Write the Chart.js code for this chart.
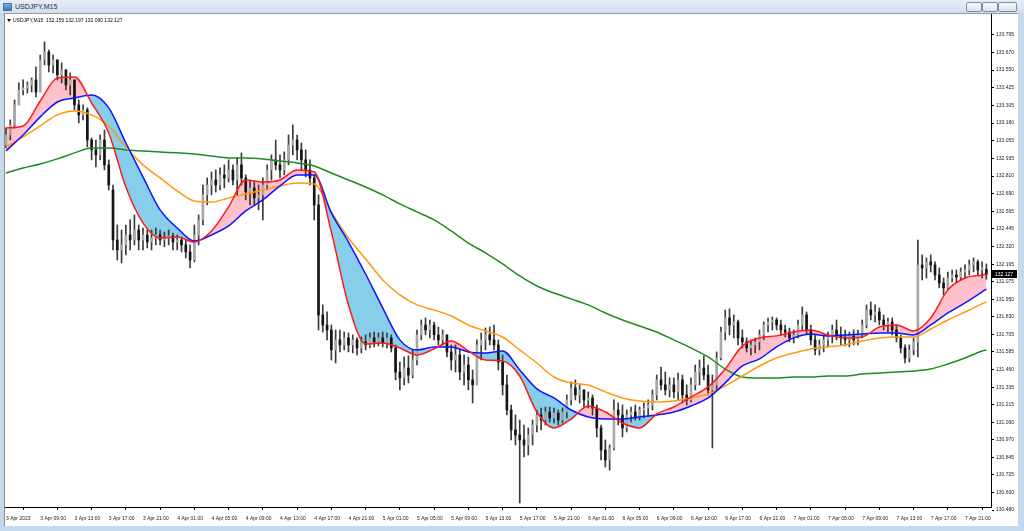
<!DOCTYPE html>
<html>
<head>
<meta charset="utf-8">
<script src="https://cdn.jsdelivr.net/npm/chart.js@4.4.1/dist/chart.umd.min.js"></script>
<style>
  html, body { margin: 0; padding: 0; }
  body { width: 1024px; height: 531px; position: relative; overflow: hidden; background: #c4d8ee; font-family: "Liberation Sans", Arial, sans-serif; }
  #titlebar { position: absolute; left: 0; top: 0; width: 1024px; height: 13px; background: linear-gradient(#e6edf6, #d3dfee); }
  #titlebar .icon { position: absolute; left: 3px; top: 3px; width: 7px; height: 6px; background: linear-gradient(#7fb0e0, #3b77b8); border: 1px solid #4d6f95; }
  #titlebar .text { position: absolute; left: 15px; top: 2px; font-size: 7px; line-height: 9px; color: #1d2c40; }
  .btn { position: absolute; top: 2px; height: 8px; border: 1px solid #7d8ea6; border-radius: 2px; background: linear-gradient(#f4f7fb, #d8e2ee); }
  #frame { position: absolute; left: 4px; top: 13px; width: 1014px; height: 513px; background: #fff; box-sizing: border-box; border-left: 1px solid #8c8c8c; border-top: 1px solid #9a9a9a; }
  #wrap { position: absolute; left: 0; top: 0; width: 1013px; height: 512px; }
</style>
</head>
<body>
<div id="titlebar">
  <div class="icon"></div>
  <div class="text">USDJPY,M15</div>
  <div class="btn" style="left:966px;width:14px;"></div>
  <div class="btn" style="left:982px;width:14px;"></div>
  <div class="btn" style="left:998px;width:17px;"></div>
</div>
<div id="frame"><div id="wrap"><canvas id="chart"></canvas></div></div>
<script>
// time axis: one label every 8 half-hour bars
const timeLabels = ['3 Apr 2023', '3 Apr 09:00', '3 Apr 13:00', '3 Apr 17:00', '3 Apr 21:00',
  '4 Apr 01:00', '4 Apr 05:00', '4 Apr 09:00', '4 Apr 13:00', '4 Apr 17:00', '4 Apr 21:00',
  '5 Apr 01:00', '5 Apr 05:00', '5 Apr 09:00', '5 Apr 13:00', '5 Apr 17:00', '5 Apr 21:00',
  '6 Apr 01:00', '6 Apr 05:00', '6 Apr 09:00', '6 Apr 13:00', '6 Apr 17:00', '6 Apr 21:00',
  '7 Apr 01:00', '7 Apr 05:00', '7 Apr 09:00', '7 Apr 13:00', '7 Apr 17:00', '7 Apr 21:00'];
const labelBars = [0, 8, 16, 24, 32, 40, 48, 56, 64, 72, 80, 88, 96, 104, 112, 120, 128, 136, 144,
  152, 160, 168, 176, 184, 192, 200, 208, 216, 224];

const priceTicks = [133.795, 133.670, 133.550, 133.425, 133.305, 133.180, 133.055, 132.935, 132.810,
  132.690, 132.565, 132.445, 132.320, 132.195, 132.075, 131.950, 131.830, 131.705, 131.585, 131.460,
  131.335, 131.215, 131.090, 130.970, 130.845, 130.725, 130.600, 130.480];

// USDJPY candles (30 min), 3 Apr 05:00 .. 7 Apr 23:30
const opens = [
  133.027, 133.097, 133.167, 133.307, 133.411, 133.425, 133.446, 133.481, 133.397, 133.621,
  133.676, 133.586, 133.621, 133.516, 133.551, 133.446, 133.481, 133.307, 133.237, 133.272,
  133.062, 132.993, 132.958, 133.062, 132.888, 132.713, 132.364, 132.295, 132.330, 132.399,
  132.364, 132.434, 132.364, 132.399, 132.350, 132.378, 132.399, 132.364, 132.378, 132.392,
  132.350, 132.364, 132.330, 132.281, 132.225, 132.399, 132.504, 132.679, 132.748, 132.783,
  132.748, 132.818, 132.797, 132.853, 132.783, 132.888, 132.797, 132.699, 132.727, 132.658,
  132.679, 132.748, 132.853, 132.923, 132.888, 132.853, 132.923, 133.027, 133.062, 132.993,
  132.923, 132.853, 132.797, 132.609, 131.841, 131.771, 131.736, 131.597, 131.667, 131.632,
  131.681, 131.632, 131.667, 131.611, 131.653, 131.632, 131.681, 131.653, 131.681, 131.646,
  131.681, 131.611, 131.443, 131.402, 131.471, 131.422, 131.527, 131.702, 131.771, 131.736,
  131.771, 131.702, 131.667, 131.702, 131.583, 131.527, 131.562, 131.443, 131.492, 131.388,
  131.353, 131.632, 131.667, 131.702, 131.667, 131.632, 131.513, 131.353, 131.178, 131.039,
  131.004, 130.969, 130.934, 131.004, 131.073, 131.143, 131.108, 131.164, 131.122, 131.157,
  131.108, 131.164, 131.248, 131.332, 131.283, 131.318, 131.248, 131.262, 131.192, 131.053,
  130.899, 130.829, 130.913, 131.178, 131.143, 131.053, 131.143, 131.164, 131.129, 131.178,
  131.192, 131.213, 131.283, 131.388, 131.353, 131.318, 131.353, 131.304, 131.388, 131.283,
  131.248, 131.353, 131.443, 131.471, 131.422, 131.318, 131.353, 131.541, 131.722, 131.820,
  131.771, 131.792, 131.681, 131.653, 131.611, 131.632, 131.653, 131.702, 131.771, 131.792,
  131.806, 131.771, 131.736, 131.722, 131.681, 131.702, 131.771, 131.841, 131.736, 131.667,
  131.597, 131.632, 131.667, 131.702, 131.736, 131.702, 131.681, 131.667, 131.695, 131.667,
  131.702, 131.771, 131.876, 131.841, 131.862, 131.806, 131.771, 131.792, 131.736, 131.681,
  131.611, 131.541, 131.597, 131.653, 132.190, 132.169, 132.211, 132.190, 132.120, 132.064,
  132.030, 132.099, 132.120, 132.106, 132.141, 132.155, 132.190, 132.211, 132.155, 132.159];
const highs = [
  133.146, 133.202, 133.341, 133.460, 133.481, 133.467, 133.495, 133.572, 133.655, 133.746,
  133.690, 133.655, 133.621, 133.600, 133.551, 133.530, 133.481, 133.341, 133.307, 133.286,
  133.076, 133.062, 133.097, 133.132, 132.923, 132.748, 132.469, 132.434, 132.469, 132.504,
  132.539, 132.469, 132.448, 132.434, 132.434, 132.448, 132.434, 132.420, 132.434, 132.413,
  132.399, 132.385, 132.364, 132.330, 132.469, 132.539, 132.748, 132.797, 132.839, 132.853,
  132.867, 132.888, 132.923, 132.888, 132.937, 132.972, 132.818, 132.783, 132.769, 132.748,
  132.797, 132.888, 132.958, 133.062, 132.958, 132.979, 133.097, 133.167, 133.097, 133.041,
  132.993, 132.923, 132.818, 132.679, 131.911, 131.862, 131.771, 131.736, 131.736, 131.722,
  131.715, 131.702, 131.681, 131.688, 131.702, 131.715, 131.722, 131.715, 131.722, 131.715,
  131.702, 131.632, 131.513, 131.548, 131.555, 131.597, 131.736, 131.806, 131.820, 131.806,
  131.792, 131.757, 131.736, 131.702, 131.632, 131.632, 131.597, 131.562, 131.548, 131.457,
  131.667, 131.715, 131.750, 131.757, 131.771, 131.667, 131.562, 131.422, 131.213, 131.143,
  131.108, 131.073, 131.053, 131.108, 131.178, 131.192, 131.199, 131.199, 131.192, 131.178,
  131.192, 131.283, 131.374, 131.388, 131.353, 131.318, 131.304, 131.283, 131.213, 131.073,
  130.969, 130.934, 131.248, 131.227, 131.213, 131.178, 131.199, 131.213, 131.199, 131.227,
  131.248, 131.318, 131.422, 131.478, 131.443, 131.402, 131.402, 131.436, 131.422, 131.353,
  131.402, 131.492, 131.527, 131.555, 131.492, 131.422, 131.583, 131.757, 131.876, 131.883,
  131.841, 131.806, 131.736, 131.681, 131.667, 131.681, 131.736, 131.792, 131.820, 131.827,
  131.820, 131.806, 131.771, 131.750, 131.736, 131.806, 131.897, 131.862, 131.771, 131.702,
  131.667, 131.702, 131.722, 131.771, 131.806, 131.757, 131.736, 131.722, 131.736, 131.736,
  131.806, 131.911, 131.932, 131.911, 131.890, 131.841, 131.820, 131.820, 131.771, 131.702,
  131.632, 131.632, 131.681, 132.364, 132.260, 132.239, 132.260, 132.211, 132.169, 132.099,
  132.141, 132.155, 132.155, 132.169, 132.190, 132.225, 132.239, 132.225, 132.211, 132.197];
const lows = [
  133.006, 133.062, 133.146, 133.307, 133.376, 133.390, 133.397, 133.362, 133.397, 133.586,
  133.537, 133.530, 133.481, 133.460, 133.411, 133.376, 133.272, 133.181, 133.202, 133.013,
  132.923, 132.874, 132.923, 132.853, 132.713, 132.295, 132.225, 132.204, 132.260, 132.295,
  132.330, 132.295, 132.295, 132.309, 132.295, 132.330, 132.330, 132.316, 132.330, 132.295,
  132.295, 132.281, 132.239, 132.169, 132.211, 132.330, 132.469, 132.609, 132.679, 132.699,
  132.713, 132.727, 132.769, 132.748, 132.679, 132.748, 132.644, 132.609, 132.609, 132.574,
  132.504, 132.713, 132.783, 132.853, 132.797, 132.818, 132.888, 132.958, 132.923, 132.853,
  132.804, 132.748, 132.504, 131.736, 131.722, 131.667, 131.527, 131.506, 131.583, 131.597,
  131.583, 131.576, 131.562, 131.576, 131.597, 131.611, 131.618, 131.625, 131.618, 131.611,
  131.583, 131.388, 131.318, 131.353, 131.367, 131.402, 131.492, 131.667, 131.702, 131.681,
  131.667, 131.632, 131.632, 131.548, 131.457, 131.443, 131.388, 131.353, 131.318, 131.227,
  131.353, 131.527, 131.597, 131.632, 131.597, 131.457, 131.283, 131.143, 130.969, 130.934,
  130.529, 130.850, 130.864, 130.934, 131.025, 131.039, 131.073, 131.094, 131.087, 131.073,
  131.087, 131.122, 131.213, 131.248, 131.227, 131.199, 131.192, 131.143, 130.990, 130.829,
  130.780, 130.759, 130.899, 131.073, 130.990, 131.025, 131.094, 131.108, 131.108, 131.122,
  131.136, 131.178, 131.248, 131.318, 131.283, 131.269, 131.262, 131.248, 131.227, 131.213,
  131.234, 131.318, 131.353, 131.388, 131.283, 130.913, 131.318, 131.527, 131.667, 131.702,
  131.681, 131.632, 131.611, 131.583, 131.562, 131.576, 131.597, 131.667, 131.722, 131.736,
  131.736, 131.702, 131.688, 131.653, 131.646, 131.681, 131.736, 131.702, 131.632, 131.562,
  131.562, 131.583, 131.618, 131.646, 131.667, 131.632, 131.625, 131.618, 131.632, 131.632,
  131.681, 131.750, 131.806, 131.792, 131.771, 131.736, 131.722, 131.702, 131.653, 131.576,
  131.506, 131.513, 131.562, 131.548, 132.085, 132.099, 132.141, 132.085, 132.030, 131.981,
  132.016, 132.071, 132.071, 132.085, 132.099, 132.120, 132.141, 132.120, 132.099, 132.090];
const closes = [
  133.097, 133.167, 133.307, 133.411, 133.425, 133.446, 133.481, 133.397, 133.621, 133.676,
  133.586, 133.621, 133.516, 133.551, 133.446, 133.481, 133.307, 133.237, 133.272, 133.062,
  132.993, 132.958, 133.062, 132.888, 132.748, 132.364, 132.295, 132.330, 132.399, 132.364,
  132.434, 132.364, 132.399, 132.350, 132.378, 132.399, 132.364, 132.378, 132.392, 132.350,
  132.364, 132.330, 132.281, 132.225, 132.399, 132.504, 132.679, 132.748, 132.783, 132.748,
  132.818, 132.797, 132.853, 132.783, 132.888, 132.797, 132.699, 132.727, 132.658, 132.679,
  132.748, 132.853, 132.923, 132.888, 132.853, 132.923, 133.027, 133.062, 132.993, 132.923,
  132.853, 132.797, 132.609, 131.841, 131.771, 131.736, 131.597, 131.667, 131.632, 131.681,
  131.632, 131.667, 131.611, 131.653, 131.632, 131.681, 131.653, 131.681, 131.646, 131.681,
  131.611, 131.443, 131.402, 131.471, 131.422, 131.527, 131.702, 131.771, 131.736, 131.771,
  131.702, 131.667, 131.702, 131.583, 131.527, 131.562, 131.443, 131.492, 131.388, 131.353,
  131.632, 131.667, 131.702, 131.667, 131.632, 131.513, 131.353, 131.178, 131.039, 131.004,
  130.969, 130.934, 131.004, 131.073, 131.143, 131.108, 131.164, 131.122, 131.157, 131.108,
  131.164, 131.248, 131.332, 131.283, 131.318, 131.248, 131.262, 131.192, 131.053, 130.899,
  130.829, 130.913, 131.178, 131.143, 131.053, 131.143, 131.164, 131.129, 131.178, 131.192,
  131.213, 131.283, 131.388, 131.353, 131.318, 131.353, 131.304, 131.388, 131.283, 131.248,
  131.353, 131.443, 131.471, 131.422, 131.318, 131.353, 131.541, 131.722, 131.820, 131.771,
  131.792, 131.681, 131.653, 131.611, 131.632, 131.653, 131.702, 131.771, 131.792, 131.806,
  131.771, 131.736, 131.722, 131.681, 131.702, 131.771, 131.841, 131.736, 131.667, 131.597,
  131.632, 131.667, 131.702, 131.736, 131.702, 131.681, 131.667, 131.695, 131.667, 131.702,
  131.771, 131.876, 131.841, 131.862, 131.806, 131.771, 131.792, 131.736, 131.681, 131.611,
  131.541, 131.597, 131.653, 132.190, 132.169, 132.211, 132.190, 132.120, 132.064, 132.030,
  132.099, 132.120, 132.106, 132.141, 132.155, 132.190, 132.211, 132.155, 132.169, 132.127];

// moving averages, sampled every 4 bars
const maBars = [0, 4, 8, 12, 16, 20, 24, 28, 32, 36, 40, 44, 48, 52, 56, 60, 64, 68, 72, 76,
  80, 84, 88, 92, 96, 100, 104, 108, 112, 116, 120, 124, 128, 132, 136, 140, 144, 148, 152, 156,
  160, 164, 168, 172, 176, 180, 184, 188, 192, 196, 200, 204, 208, 212, 216, 220, 224, 228, 229];
const maFast = [
  133.146, 133.160, 133.334, 133.495, 133.502, 133.320, 133.111, 132.734, 132.483, 132.378,
  132.385, 132.350, 132.427, 132.595, 132.783, 132.769, 132.783, 132.853, 132.839, 132.420,
  131.911, 131.639, 131.646, 131.611, 131.562, 131.604, 131.660, 131.590, 131.527, 131.520,
  131.415, 131.164, 131.053, 131.115, 131.206, 131.164, 131.087, 131.053, 131.150, 131.199,
  131.269, 131.339, 131.464, 131.625, 131.681, 131.695, 131.722, 131.736, 131.702, 131.681,
  131.688, 131.757, 131.771, 131.729, 131.820, 132.016, 132.099, 132.120, 132.127];
const maMid = [
  132.986, 133.097, 133.223, 133.327, 133.355, 133.376, 133.286, 133.041, 132.804, 132.574,
  132.448, 132.357, 132.399, 132.462, 132.567, 132.644, 132.741, 132.818, 132.818, 132.553,
  132.350, 132.127, 131.890, 131.667, 131.597, 131.618, 131.618, 131.583, 131.576, 131.590,
  131.457, 131.325, 131.262, 131.178, 131.129, 131.115, 131.115, 131.129, 131.143, 131.164,
  131.206, 131.262, 131.367, 131.485, 131.534, 131.618, 131.681, 131.708, 131.695, 131.702,
  131.708, 131.715, 131.715, 131.702, 131.771, 131.855, 131.925, 132.002, 132.022];
const maSlow = [
  133.013, 133.083, 133.160, 133.237, 133.264, 133.237, 133.160, 133.013, 132.888, 132.797,
  132.706, 132.636, 132.629, 132.657, 132.685, 132.713, 132.741, 132.762, 132.755, 132.560,
  132.378, 132.232, 132.085, 131.981, 131.911, 131.876, 131.834, 131.771, 131.729, 131.687,
  131.597, 131.506, 131.408, 131.366, 131.353, 131.304, 131.262, 131.241, 131.234, 131.241,
  131.262, 131.290, 131.346, 131.415, 131.485, 131.541, 131.576, 131.604, 131.618, 131.632,
  131.660, 131.681, 131.688, 131.688, 131.743, 131.806, 131.862, 131.918, 131.932];
const maLong = [
  132.832, 132.867, 132.895, 132.930, 132.972, 133.006, 133.006, 132.992, 132.985, 132.978,
  132.972, 132.964, 132.950, 132.937, 132.937, 132.930, 132.916, 132.902, 132.881, 132.832,
  132.783, 132.734, 132.679, 132.616, 132.560, 132.504, 132.427, 132.343, 132.274, 132.197,
  132.113, 132.043, 131.994, 131.953, 131.911, 131.855, 131.806, 131.764, 131.722, 131.667,
  131.611, 131.548, 131.464, 131.408, 131.401, 131.401, 131.408, 131.408, 131.415, 131.415,
  131.429, 131.436, 131.443, 131.450, 131.464, 131.499, 131.541, 131.590, 131.597];

Chart.defaults.font.family = '"Liberation Sans", Arial, sans-serif';

const wicks = highs.map((h, i) => ({ x: i, y: [lows[i], h] }));
const bodies = opens.map((o, i) => ({ x: i, y: [o, closes[i]] }));
const maLine = vals => maBars.map((b, k) => ({ x: b, y: vals[k] }));

function maDataset(label, vals, color, order) {
  return {
    type: 'line', label, data: maLine(vals), borderColor: color, borderWidth: 1.5,
    pointRadius: 0, cubicInterpolationMode: 'monotone', fill: false, order
  };
}

// black box with the last price on the price scale + the symbol line top-left
const overlay = {
  id: 'overlay',
  afterDraw(chart) {
    const { ctx, chartArea, scales: { y } } = chart;
    const last = closes[closes.length - 1];
    const py = Math.round(y.getPixelForValue(last));
    ctx.save();
    ctx.fillStyle = '#000';
    ctx.fillRect(y.left + 1, py - 4, 25, 8);
    ctx.fillStyle = '#fff';
    ctx.font = '5px "Liberation Sans"';
    ctx.textBaseline = 'middle';
    ctx.fillText(last.toFixed(3), y.left + 4, py + 0.5);

    ctx.fillStyle = '#000';
    ctx.beginPath();
    ctx.moveTo(chartArea.left + 2, chartArea.top + 5);
    ctx.lineTo(chartArea.left + 6, chartArea.top + 5);
    ctx.lineTo(chartArea.left + 4, chartArea.top + 8);
    ctx.closePath();
    ctx.fill();
    ctx.fillText('USDJPY,M15  ' + [opens, highs, lows, closes].map(a => a[a.length - 1].toFixed(3)).join(' '),
      chartArea.left + 8, chartArea.top + 7);
    ctx.restore();
  }
};

new Chart(document.getElementById('chart'), {
  type: 'line',
  data: {
    datasets: [
      { type: 'bar', label: 'wick', data: wicks, backgroundColor: '#3a3a3a', barThickness: 1,
        grouped: false, order: 10 },
      { type: 'bar', label: 'body', data: bodies, barThickness: 2, grouped: false, order: 9,
        minBarLength: 1, borderWidth: 0,
        backgroundColor: c => closes[c.dataIndex] >= opens[c.dataIndex] ? '#a8a8a8' : '#151515' },
      maDataset('MA long', maLong, '#1f8a1f', 4),
      maDataset('MA slow', maSlow, '#ff9a10', 3),
      maDataset('MA mid', maMid, '#0a14ff', 2),
      Object.assign(maDataset('MA fast', maFast, '#ff1a1a', 1),
        { fill: { target: 4, above: '#ffc0cb', below: '#87ceeb' } })
    ]
  },
  options: {
    responsive: true,
    maintainAspectRatio: false,
    animation: false,
    events: [],
    layout: { padding: 0 },
    plugins: {
      legend: { display: false },
      tooltip: { enabled: false },
      filler: { drawTime: 'beforeDatasetsDraw', propagate: false }
    },
    scales: {
      x: {
        type: 'linear', min: -0.23, max: 230.08, offset: false,
        afterBuildTicks: s => { s.ticks = labelBars.map(v => ({ value: v })); },
        afterFit: s => { s.height = 19; s.paddingLeft = 0; s.paddingRight = 0; },
        ticks: { autoSkip: false, maxRotation: 0, align: 'start', padding: 6, color: '#222',
          font: { size: 5 }, callback: (v, k) => timeLabels[k] },
        grid: { drawOnChartArea: false, tickLength: 3, color: '#000' },
        border: { color: '#000', width: 1 }
      },
      y: {
        position: 'right', min: 130.501, max: 133.941,
        afterBuildTicks: s => { s.ticks = priceTicks.map(v => ({ value: v })); },
        afterFit: s => { s.width = 27; s.paddingTop = 0; s.paddingBottom = 0; },
        ticks: { padding: 2, color: '#222', font: { size: 5 }, callback: v => v.toFixed(3) },
        grid: { drawOnChartArea: false, tickLength: 3, color: '#000' },
        border: { color: '#000', width: 1 }
      }
    }
  },
  plugins: [overlay]
});
</script>
</body>
</html>
